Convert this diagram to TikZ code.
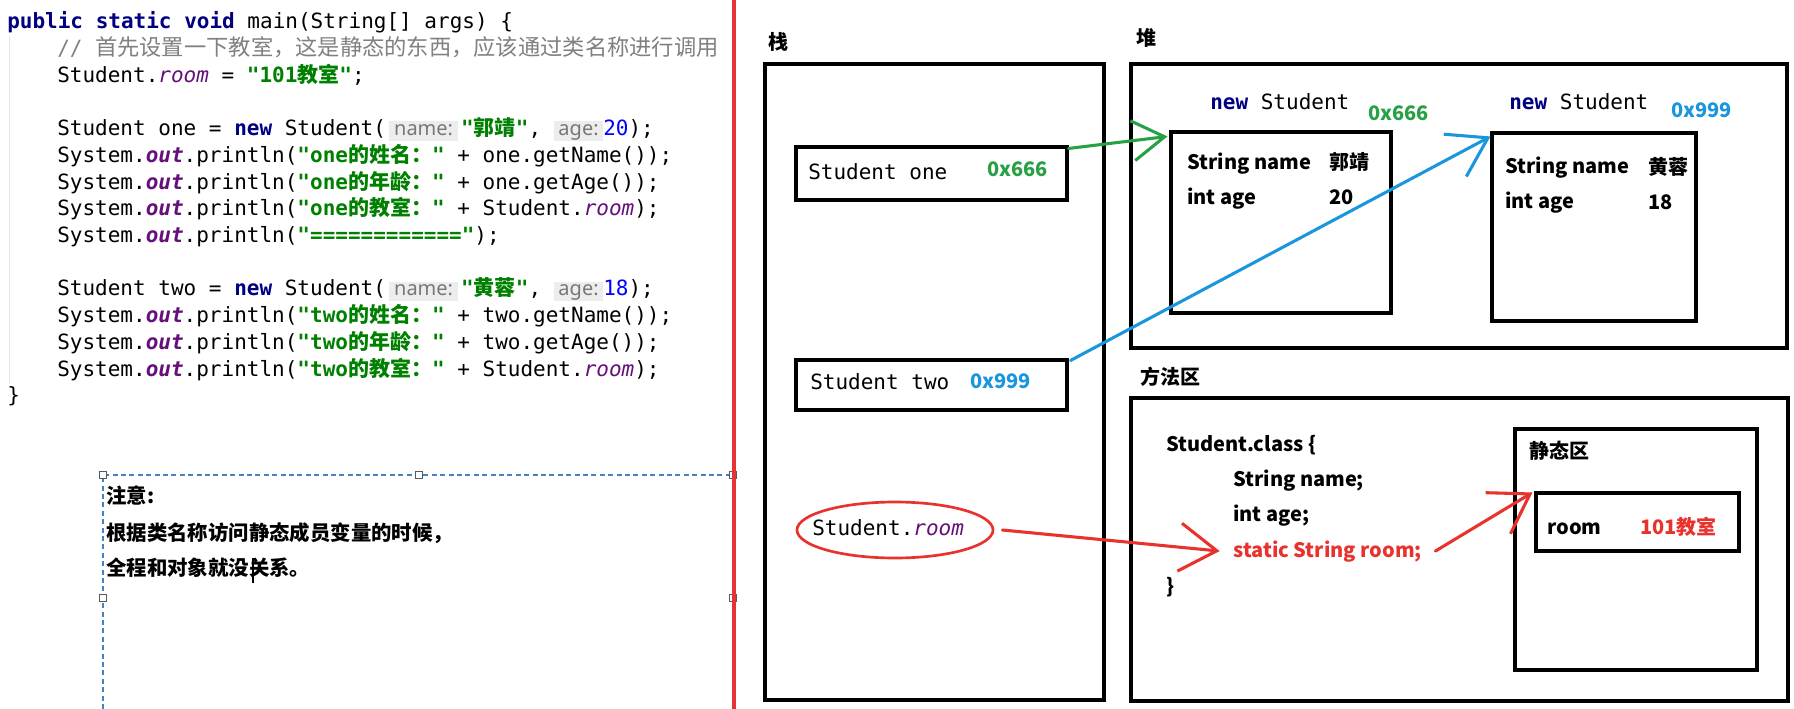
\documentclass[tikz,border=0pt]{standalone}
\usepackage{fontspec}
\setmonofont{DejaVu Sans Mono}
\setsansfont{Noto Sans}
\newfontfamily\cjk{Noto Sans CJK SC}
\usetikzlibrary{arrows.meta,shapes.geometric}

\definecolor{kwnavy}{RGB}{0,0,128}
\definecolor{strgreen}{RGB}{0,128,0}
\definecolor{numblue}{RGB}{0,0,255}
\definecolor{fldpurple}{RGB}{102,14,122}
\definecolor{cmtgray}{RGB}{128,128,128}
\definecolor{hintgray}{RGB}{120,120,120}
\definecolor{hintbg}{RGB}{237,237,237}
\definecolor{linered}{RGB}{228,52,52}
\definecolor{selblue}{RGB}{70,130,190}
\definecolor{arrgreen}{RGB}{40,160,70}
\definecolor{arrblue}{RGB}{25,150,220}
\definecolor{arrred}{RGB}{232,50,45}

\newcommand\kw[1]{\textcolor{kwnavy}{\bfseries #1}}
\newcommand\jstr[1]{\textcolor{strgreen}{\bfseries #1}}
\newcommand\zh[1]{{\cjk #1}}
\newcommand\fld[1]{\textcolor{fldpurple}{\itshape #1}}
\newcommand\outf{\textcolor{fldpurple}{\bfseries\itshape out}}
\newcommand\hint[1]{{\fboxsep=0pt\colorbox{hintbg}{\hspace{3.5pt}\textcolor{hintgray}{\sffamily\fontsize{15}{15}\selectfont\vphantom{Ag}#1}\hspace{3.5pt}}}}
\def\pxu{0.75pt}

\tikzset{
  code/.style={anchor=base west, inner sep=0pt, font=\ttfamily\fontsize{15.75}{18}\selectfont},
  note/.style={anchor=west, inner sep=0pt, font=\cjk\bfseries\fontsize{15.3}{18}\selectfont},
  handle/.style={draw=gray!70!black, fill=white, line width=0.8pt},
  membox/.style={draw, line width=2.3pt, inner sep=0pt},
  ttl/.style={inner sep=0pt, font=\cjk\bfseries\fontsize{15}{18}\selectfont},
  lbl/.style={anchor=base west, inner sep=0pt, font=\cjk\bfseries\fontsize{15}{18}\selectfont},
  mono/.style={anchor=base west, inner sep=0pt, font=\ttfamily\fontsize{15.75}{18}\selectfont},
  ptr/.style={line width=2.3pt, line cap=round, -{Straight Barb[length=28pt,width=36pt]}}
}

\begin{document}
\begin{tikzpicture}[x=0.75pt,y=-0.75pt]
\useasboundingbox (0,0) rectangle (1794,709);
\fill[white] (0,0) rectangle (1794,709);

% code on the left
\draw[gray!20, line width=0.75pt] (9,36) -- (9,384);
\node[code] (l1) at (7,29) {\kw{public static void} main(String[] args) \{};
\node[code] (l2) at (57,55.7) {\textcolor{cmtgray}{// {\cjk\fontsize{16.7}{18}\selectfont 首先设置一下教室，这是静态的东西，应该通过类名称进行调用}}};
\node[code] (l3) at (57,82.4) {Student.\fld{room} = \jstr{"101\zh{教室}"};};
\node[code] (l5) at (57,135.8) {Student one = \kw{new} Student(\,\hint{name:}\,\jstr{"\zh{郭靖}"}, \hint{age:}\textcolor{numblue}{20});};
\node[code] (l6) at (57,162.5) {System.\outf.println(\jstr{"one\zh{的姓名：}"} + one.getName());};
\node[code] (l7) at (57,189.2) {System.\outf.println(\jstr{"one\zh{的年龄：}"} + one.getAge());};
\node[code] (l8) at (57,215.9) {System.\outf.println(\jstr{"one\zh{的教室：}"} + Student.\fld{room});};
\node[code] (l9) at (57,242.6) {System.\outf.println(\jstr{"============"});};
\node[code] (l11) at (57,296) {Student two = \kw{new} Student(\,\hint{name:}\,\jstr{"\zh{黄蓉}"}, \hint{age:}\textcolor{numblue}{18});};
\node[code] (l12) at (57,322.7) {System.\outf.println(\jstr{"two\zh{的姓名：}"} + two.getName());};
\node[code] (l13) at (57,349.4) {System.\outf.println(\jstr{"two\zh{的年龄：}"} + two.getAge());};
\node[code] (l14) at (57,376.1) {System.\outf.println(\jstr{"two\zh{的教室：}"} + Student.\fld{room});};
\node[code] (l15) at (7,402.8) {\}};

% note box
\draw[selblue, line width=1.5pt, dash pattern=on 3.8pt off 2.5pt] (103,709) -- (103,475) -- (733,475);
\foreach \p in {(103,475),(419,475),(733,475),(103,598),(733,598)}
  \draw[handle] \p +(-3.5,-3.5) rectangle +(3.5,3.5);
\node[note] (n1) at (106,496) {注意:};
\node[note] (n2) at (106,533) {根据类名称访问静态成员变量的时候，};
\node[note] (n3) at (106,568) {全程和对象就没关系。};
\draw[line width=0.8pt] (253,558) -- (253,583);
\draw[linered, line width=2.4pt] (734,0) -- (734,709);

% stack
\node[ttl] (stacklbl) at (778,42) {栈};
\node[membox, minimum width=339*\pxu, minimum height=636*\pxu] (stack) at (934.5,382) {};
\node[membox, minimum width=271*\pxu, minimum height=53*\pxu] (one) at (931.5,173.5) {};
\node[mono] (onename) at (808,180) {Student one};
\node[lbl, text=arrgreen] (oneaddr) at (987,177) {0x666};
\node[membox, minimum width=271*\pxu, minimum height=50*\pxu] (two) at (931.5,385) {};
\node[mono] (twoname) at (810,389) {Student two};
\node[lbl, text=arrblue] (twoaddr) at (970,388) {0x999};
\node[ellipse, draw=arrred, line width=2pt, minimum width=196*\pxu, minimum height=56*\pxu, inner sep=0pt] (roomref) at (895,530) {};
\node[mono] (roomname) at (812,535) {Student.\fld{room}};

% heap
\node[ttl] (heaplbl) at (1146,38) {堆};
\node[membox, minimum width=656*\pxu, minimum height=284*\pxu] (heap) at (1459,206) {};
\node[mono] (newone) at (1210,110) {\kw{new} Student};
\node[lbl, text=arrgreen] (objoneaddr) at (1368,121) {0x666};
\node[membox, minimum width=220*\pxu, minimum height=181*\pxu] (objone) at (1281,222.5) {};
\node[lbl] (onef1) at (1187,170) {String name};
\node[lbl] (onev1) at (1329,170) {郭靖};
\node[lbl] (onef2) at (1187,205) {int age};
\node[lbl] (onev2) at (1329,205) {20};
\node[mono] (newtwo) at (1509,110) {\kw{new} Student};
\node[lbl, text=arrblue] (objtwoaddr) at (1671,118) {0x999};
\node[membox, minimum width=204*\pxu, minimum height=188*\pxu] (objtwo) at (1594,227) {};
\node[lbl] (twof1) at (1505,174) {String name};
\node[lbl] (twov1) at (1648,175) {黄蓉};
\node[lbl] (twof2) at (1505,209) {int age};
\node[lbl] (twov2) at (1648,210) {18};

% method area
\node[ttl] (methodlbl) at (1170,377) {方法区};
\node[membox, minimum width=657*\pxu, minimum height=303*\pxu] (method) at (1459.5,549.5) {};
\node[lbl] (cls1) at (1166,451) {Student.class \{};
\node[lbl] (cls2) at (1233,486) {String name;};
\node[lbl] (cls3) at (1233,521) {int age;};
\node[lbl, text=arrred] (cls4) at (1233,557) {static String room;};
\node[lbl] (cls5) at (1166,593) {\}};
\node[membox, minimum width=242*\pxu, minimum height=241*\pxu] (staticarea) at (1636,549.5) {};
\node[ttl, anchor=west] (staticlbl) at (1529,451) {静态区};
\node[membox, minimum width=203*\pxu, minimum height=58*\pxu] (roombox) at (1637.5,522) {};
\node[lbl] (roomf) at (1547,534) {room};
\node[lbl, text=arrred] (roomv) at (1640,534) {101教室};

% references
\draw[ptr, arrgreen, -{Straight Barb[length=24pt,width=30pt]}] ([yshift=-2.25pt]one.north east) -- ([xshift=-1.5pt,yshift=-4.5pt]objone.north west);
\draw[ptr, arrblue] ([xshift=1.5pt,yshift=-1.5pt]two.north east) -- ([yshift=-3.75pt]objtwo.north west);
\draw[ptr, arrred] ([xshift=6pt]roomref.east) -- ([xshift=-10pt]cls4.west);
\draw[ptr, arrred] ([xshift=10pt]cls4.east) -- ([xshift=-1.5pt,yshift=-0.75pt]roombox.north west);
\end{tikzpicture}
\end{document}
